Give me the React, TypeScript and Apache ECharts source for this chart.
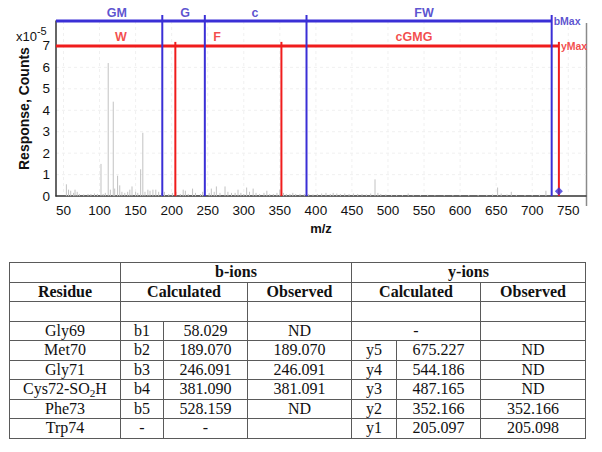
import React, { useEffect, useRef } from "react";
import * as echarts from "echarts";

// ---------- chart data ----------
const xTicks = [50, 100, 150, 200, 250, 300, 350, 400, 450, 500, 550, 600, 650, 700, 750];
const yTicks = [0, 1, 2, 3, 4, 5, 6, 7];
// spectrum peaks: m/z, response (x10^-5)
const peakMz = [
  54, 57, 60, 64, 66, 69, 72, 78, 84, 88, 93, 97, 102, 105, 108, 112, 115, 119, 121, 125,
  128, 131, 135, 139, 142, 145, 150, 153, 157, 160, 163, 167, 170, 174, 178, 182, 186, 190, 196, 201,
  206, 212, 216, 219, 223, 229, 233, 240, 243, 252, 255, 259, 262, 267, 274, 278, 283, 288, 292, 296,
  300, 304, 308, 313, 317, 322, 328, 332, 336, 341, 346, 350, 355, 359, 364, 368, 372, 378, 384, 390,
  396, 402, 408, 414, 420, 424, 429, 434, 440, 446, 452, 458, 464, 470, 476, 482, 486, 490, 497, 505,
  512, 520, 528, 535, 545, 555, 565, 578, 590, 600, 612, 625, 637, 645, 652, 657, 665, 671, 678, 690,
  700, 710, 719,
];
const peakIntensity = [
  0.55, 0.3, 0.25, 0.15, 0.3, 0.2, 0.1, 0.08, 0.1, 0.1, 0.12, 0.1, 1.5, 0.1, 0.15, 6.2, 0.3, 4.4, 0.35, 0.95,
  0.5, 0.2, 0.15, 0.2, 0.3, 0.45, 0.2, 0.15, 1.25, 2.95, 0.2, 0.3, 0.25, 0.3, 0.3, 0.2, 0.15, 0.2, 0.1, 0.15,
  0.2, 0.1, 0.3, 0.25, 0.1, 0.35, 0.15, 0.1, 0.2, 0.15, 0.35, 0.2, 0.45, 0.15, 0.45, 0.2, 0.15, 0.15, 0.3, 0.15,
  0.1, 0.4, 0.2, 0.35, 0.15, 0.1, 0.15, 0.25, 0.1, 0.1, 0.15, 0.3, 0.15, 0.1, 0.1, 0.15, 0.1, 0.1, 0.1, 0.1,
  0.08, 0.1, 0.12, 0.15, 0.1, 0.15, 0.12, 0.1, 0.12, 0.1, 0.12, 0.1, 0.1, 0.08, 0.12, 0.78, 0.15, 0.1, 0.08, 0.06,
  0.06, 0.05, 0.12, 0.06, 0.05, 0.06, 0.04, 0.05, 0.05, 0.05, 0.05, 0.05, 0.06, 0.08, 0.4, 0.12, 0.08, 0.2, 0.06, 0.05,
  0.05, 0.06, 0.25,
];
// b-ion ladder (blue) and y-ion ladder (red), positions
const bLineMz = [187, 246, 387, 727];
const bLadderLevel = 8.16;
const bFragLabels = ["GM", "G", "c", "FW"];
const bFragMz = [123.8, 218.5, 315.6, 550];
const yLineMz = [205.1, 352.2, 737];
const yLadderLevel = 7;
const yFragLabels = ["W", "F", "cGMG"];
const yFragMz = [129.7, 262.9, 536.1];
const precursor = [737, 0.23];

// ---------- table data ----------
const residues = ["Gly69", "Met70", "Gly71", "Cys72-SO2H", "Phe73", "Trp74"];
const bLabels = ["b1", "b2", "b3", "b4", "b5", "-"];
const bCalc = ["58.029", "189.070", "246.091", "381.090", "528.159", "-"];
const bObs = ["ND", "189.070", "246.091", "381.091", "ND", ""];
const yLabels = ["", "y5", "y4", "y3", "y2", "y1"];
const yCalc = ["-", "675.227", "544.186", "487.165", "352.166", "205.097"];
const yObs = ["", "ND", "ND", "ND", "352.166", "205.098"];

const BLUE = "#3a2fd6";
const BLUE_TEXT = "#3226c4";
const RED = "#f01c1c";
const X_MIN = 39.6;
const X_MAX = 774.6;
const Y_MAX = 8.16;

function Chart() {
  const ref = useRef<HTMLDivElement>(null);
  useEffect(() => {
    if (!ref.current) return;
    const chart = echarts.init(ref.current, null, { renderer: "svg" });
    const font = "'Liberation Sans', Arial, Helvetica, sans-serif";
    const vLine = (color: string, topLevel: number, topExtra: number) => (params: any, api: any) => {
      const v = api.value(0);
      const t = api.coord([v, topLevel]);
      const b = api.coord([v, 0]);
      return {
        type: "line",
        shape: { x1: t[0], y1: t[1] - topExtra, x2: b[0], y2: b[1] },
        style: { stroke: color, lineWidth: 2 },
      };
    };
    chart.setOption({
      animation: false,
      textStyle: { fontFamily: font },
      grid: { left: 56, right: 16, top: 21, bottom: 34 },
      xAxis: {
        type: "value",
        min: X_MIN,
        max: X_MAX,
        name: "m/z",
        nameLocation: "middle",
        nameGap: 24,
        nameTextStyle: { fontWeight: "bold", fontSize: 13, color: "#111", fontFamily: font },
        axisLine: { show: true, onZero: false, lineStyle: { color: "#333", width: 1.5 } },
        axisTick: { show: false },
        axisLabel: { customValues: xTicks, fontSize: 13.5, color: "#111", margin: 7 },
        splitLine: { show: false },
      },
      yAxis: {
        type: "value",
        min: 0,
        max: Y_MAX,
        interval: 1,
        name: "Response, Counts",
        nameLocation: "middle",
        nameGap: 25,
        nameRotate: 90,
        nameTextStyle: { fontWeight: "bold", fontSize: 14, color: "#111", fontFamily: font },
        axisLine: { show: true, lineStyle: { color: "#333", width: 1.5 } },
        axisTick: { show: false },
        axisLabel: {
          fontSize: 13.5,
          color: "#111",
          margin: 6,
          formatter: (v: number) => (yTicks.includes(v) ? String(v) : ""),
        },
        splitLine: { show: false },
      },
      graphic: [
        {
          type: "line",
          shape: { x1: 586.5, y1: 23, x2: 586.5, y2: 206 },
          style: { stroke: "#8a8a8a", lineWidth: 1.5 },
        },
        {
          type: "text",
          left: 16,
          top: 25,
          style: {
            text: "{a|x10}{b|-5}",
            rich: {
              a: { fontSize: 13, fill: "#111", fontFamily: font, padding: [5, 0, 0, 0] },
              b: { fontSize: 11, fill: "#111", fontFamily: font, verticalAlign: "top" },
            },
          },
        },
      ],
      series: [
        // faint grid
        {
          type: "custom",
          silent: true,
          data: xTicks.map((t) => [t, 0]),
          encode: { x: 0, y: 1 },
          renderItem: (params: any, api: any) => {
            const v = api.value(0);
            const t = api.coord([v, Y_MAX]);
            const b = api.coord([v, 0]);
            return {
              type: "line",
              shape: { x1: t[0], y1: t[1], x2: b[0], y2: b[1] },
              style: { stroke: "#f0f0f0", lineWidth: 1, lineDash: [3, 3] },
            };
          },
          z: 0,
        },
        {
          type: "custom",
          silent: true,
          data: yTicks.slice(1).map((t) => [X_MIN, t]),
          encode: { x: 0, y: 1 },
          renderItem: (params: any, api: any) => {
            const v = api.value(1);
            const l = api.coord([X_MIN, v]);
            const r = api.coord([X_MAX, v]);
            return {
              type: "line",
              shape: { x1: l[0], y1: l[1], x2: r[0], y2: r[1] },
              style: { stroke: "#f0f0f0", lineWidth: 1, lineDash: [3, 3] },
            };
          },
          z: 0,
        },
        // spectrum
        {
          type: "custom",
          data: peakMz.map((m, i) => [m, peakIntensity[i]]),
          encode: { x: 0, y: 1 },
          renderItem: (params: any, api: any) => {
            const p0 = api.coord([api.value(0), 0]);
            const p1 = api.coord([api.value(0), api.value(1)]);
            return {
              type: "line",
              shape: { x1: p0[0], y1: p0[1], x2: p1[0], y2: p1[1] },
              style: { stroke: "#c2c2c2", lineWidth: 1 },
            };
          },
          z: 2,
        },
        // ladders
        {
          type: "line",
          data: [
            [X_MIN, bLadderLevel],
            [bLineMz[bLineMz.length - 1], bLadderLevel],
          ],
          symbol: "none",
          lineStyle: { color: BLUE, width: 3 },
          clip: false,
          z: 5,
        },
        {
          type: "line",
          data: [
            [X_MIN, yLadderLevel],
            [yLineMz[yLineMz.length - 1], yLadderLevel],
          ],
          symbol: "none",
          lineStyle: { color: RED, width: 3 },
          clip: false,
          z: 5,
        },
        {
          type: "custom",
          clip: false,
          data: bLineMz.map((m) => [m, 0]),
          encode: { x: 0, y: 1 },
          renderItem: vLine(BLUE, bLadderLevel, 6),
          z: 6,
        },
        {
          type: "custom",
          clip: false,
          data: yLineMz.map((m) => [m, 0]),
          encode: { x: 0, y: 1 },
          renderItem: vLine(RED, yLadderLevel, 4),
          z: 6,
        },
        // precursor marker
        {
          type: "scatter",
          data: [precursor],
          symbol: "diamond",
          symbolSize: 8,
          itemStyle: { color: BLUE },
          z: 7,
        },
        // fragment labels
        {
          type: "scatter",
          clip: false,
          symbolSize: 0,
          data: bFragMz.map((m, i) => ({ value: [m, bLadderLevel], name: bFragLabels[i] })),
          label: {
            show: true,
            position: "top",
            distance: 2,
            formatter: "{b}",
            color: BLUE_TEXT,
            fontWeight: "bold",
            fontSize: 12.5,
          },
          z: 8,
        },
        {
          type: "scatter",
          clip: false,
          symbolSize: 0,
          data: yFragMz.map((m, i) => ({ value: [m, yLadderLevel], name: yFragLabels[i] })),
          label: {
            show: true,
            position: "top",
            distance: 2,
            formatter: "{b}",
            color: RED,
            fontWeight: "bold",
            fontSize: 12.5,
          },
          z: 8,
        },
        {
          type: "scatter",
          clip: false,
          symbolSize: 0,
          data: [
            { value: [bLineMz[bLineMz.length - 1], bLadderLevel], name: "bMax", label: { color: BLUE_TEXT } },
            { value: [yLineMz[yLineMz.length - 1], yLadderLevel], name: "yMax", label: { color: RED } },
          ],
          label: {
            show: true,
            position: "right",
            distance: 2,
            formatter: "{b}",
            fontWeight: "bold",
            fontSize: 10.5,
          },
          z: 8,
        },
      ],
    });
    return () => chart.dispose();
  }, []);
  return <div ref={ref} style={{ position: "absolute", left: 0, top: 0, width: 602, height: 240 }} />;
}

const cellBorder = "1.5px solid #5a5a5a";
const td = (extra: React.CSSProperties = {}): React.CSSProperties => ({
  border: cellBorder,
  padding: 0,
  height: 18.5,
  lineHeight: "18.5px",
  textAlign: "center",
  whiteSpace: "nowrap",
  overflow: "hidden",
  ...extra,
});

function Residue({ name }: { name: string }) {
  if (name === "Cys72-SO2H") {
    return (
      <>
        Cys72-SO<sub style={{ fontSize: "0.7em", verticalAlign: "-0.25em", lineHeight: 0 }}>2</sub>H
      </>
    );
  }
  return <>{name}</>;
}

function IonTable() {
  const bold: React.CSSProperties = { fontWeight: "bold" };
  return (
    <table
      style={{
        position: "absolute",
        left: 9,
        top: 262,
        width: 576,
        borderCollapse: "collapse",
        tableLayout: "fixed",
        fontFamily: "'Liberation Serif', 'Times New Roman', serif",
        fontSize: 16,
        color: "#111",
      }}
    >
      <colgroup>
        <col style={{ width: 111 }} />
        <col style={{ width: 43 }} />
        <col style={{ width: 84 }} />
        <col style={{ width: 104 }} />
        <col style={{ width: 45 }} />
        <col style={{ width: 84 }} />
        <col style={{ width: 105 }} />
      </colgroup>
      <tbody>
        <tr>
          <td style={td()}></td>
          <td style={td(bold)} colSpan={3}>b-ions</td>
          <td style={td(bold)} colSpan={3}>y-ions</td>
        </tr>
        <tr>
          <td style={td(bold)}>Residue</td>
          <td style={td(bold)} colSpan={2}>Calculated</td>
          <td style={td(bold)}>Observed</td>
          <td style={td(bold)} colSpan={2}>Calculated</td>
          <td style={td(bold)}>Observed</td>
        </tr>
        <tr>
          <td style={td()}></td>
          <td style={td()} colSpan={2}></td>
          <td style={td()}></td>
          <td style={td()} colSpan={2}></td>
          <td style={td()}></td>
        </tr>
        {residues.map((r, i) => (
          <tr key={r}>
            <td style={td()}>
              <Residue name={r} />
            </td>
            <td style={td()}>{bLabels[i]}</td>
            <td style={td()}>{bCalc[i]}</td>
            <td style={td()}>{bObs[i]}</td>
            {yLabels[i] === "" ? (
              <td style={td()} colSpan={2}>{yCalc[i]}</td>
            ) : (
              <>
                <td style={td()}>{yLabels[i]}</td>
                <td style={td()}>{yCalc[i]}</td>
              </>
            )}
            <td style={td()}>{yObs[i]}</td>
          </tr>
        ))}
      </tbody>
    </table>
  );
}

export default function App() {
  return (
    <div style={{ position: "fixed", left: 0, top: 0, width: 602, height: 452, background: "#fff", overflow: "hidden" }}>
      <Chart />
      <IonTable />
    </div>
  );
}
